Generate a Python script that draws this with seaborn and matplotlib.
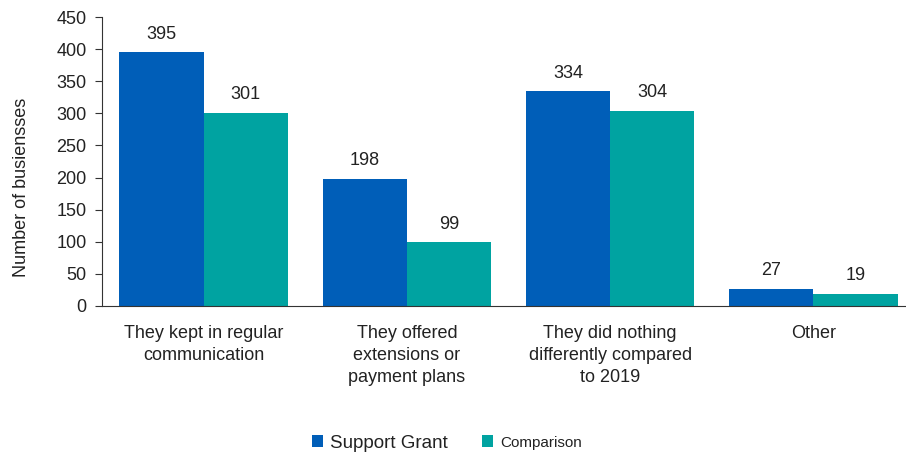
import pandas as pd
import seaborn as sns
import matplotlib.pyplot as plt

# Dados
categorias = ["They kept in regular\ncommunication",
              "They offered\nextensions or\npayment plans",
              "They did nothing\ndifferently compared\nto 2019",
              "Other"]
support_grant = [395, 198, 334, 27]
comparison = [301, 99, 304, 19]
grupos = ["Support Grant", "Comparison"]
cores = ["#005EB8", "#00A3A1"]

df = pd.DataFrame({
    "Categoria": categorias * 2,
    "Grupo": [grupos[0]] * 4 + [grupos[1]] * 4,
    "Valor": support_grant + comparison,
})

sns.set_style("white")
plt.rcParams["font.family"] = ["Liberation Sans", "DejaVu Sans"]
texto = "#222222"
fs = 13

fig = plt.figure(figsize=(9.06, 4.55), dpi=100)
ax = fig.add_axes([102 / 906, (455 - 306) / 455, 813 / 906, 289 / 455])

sns.barplot(data=df, x="Categoria", y="Valor", hue="Grupo", palette=cores,
            width=0.83, saturation=1, linewidth=0, ax=ax, legend=True)

for cont in ax.containers:
    ax.bar_label(cont, padding=7, fontsize=fs, color=texto)

ax.set_ylim(0, 450)
ax.set_yticks(range(0, 451, 50))
ax.set_xlim(-0.5, 3.5)
ax.set_xlabel("")
ax.set_ylabel("Number of busiensses", fontsize=fs, color=texto)
ax.yaxis.set_label_coords(-0.089, 0.41)

# marcas entre categorias
ax.set_xticks([-0.5, 0.5, 1.5, 2.5], minor=True)
ax.tick_params(axis="x", which="minor", length=6, width=0.8, color="#555555", direction="out")
ax.tick_params(axis="x", which="major", length=0, pad=14, labelsize=fs, labelcolor=texto)
ax.tick_params(axis="y", length=5, width=0.8, color="#333333", direction="out", pad=6,
               labelsize=fs, labelcolor=texto, left=True)
for lbl in ax.get_xticklabels():
    lbl.set_linespacing(1.35)

sns.despine(ax=ax)
for lado in ["left", "bottom"]:
    ax.spines[lado].set_color("#333333")
    ax.spines[lado].set_linewidth(0.8)

leg = ax.legend(loc="center", bbox_to_anchor=(447 / 906, 12 / 455),
                bbox_transform=fig.transFigure, ncol=2, frameon=False,
                handlelength=0.6, handleheight=0.6, handletextpad=0.4,
                columnspacing=1.8, fontsize=13.5)
for t in leg.get_texts():
    t.set_color(texto)
leg.get_texts()[1].set_fontsize(11)

fig.savefig("out.png", dpi=100)
